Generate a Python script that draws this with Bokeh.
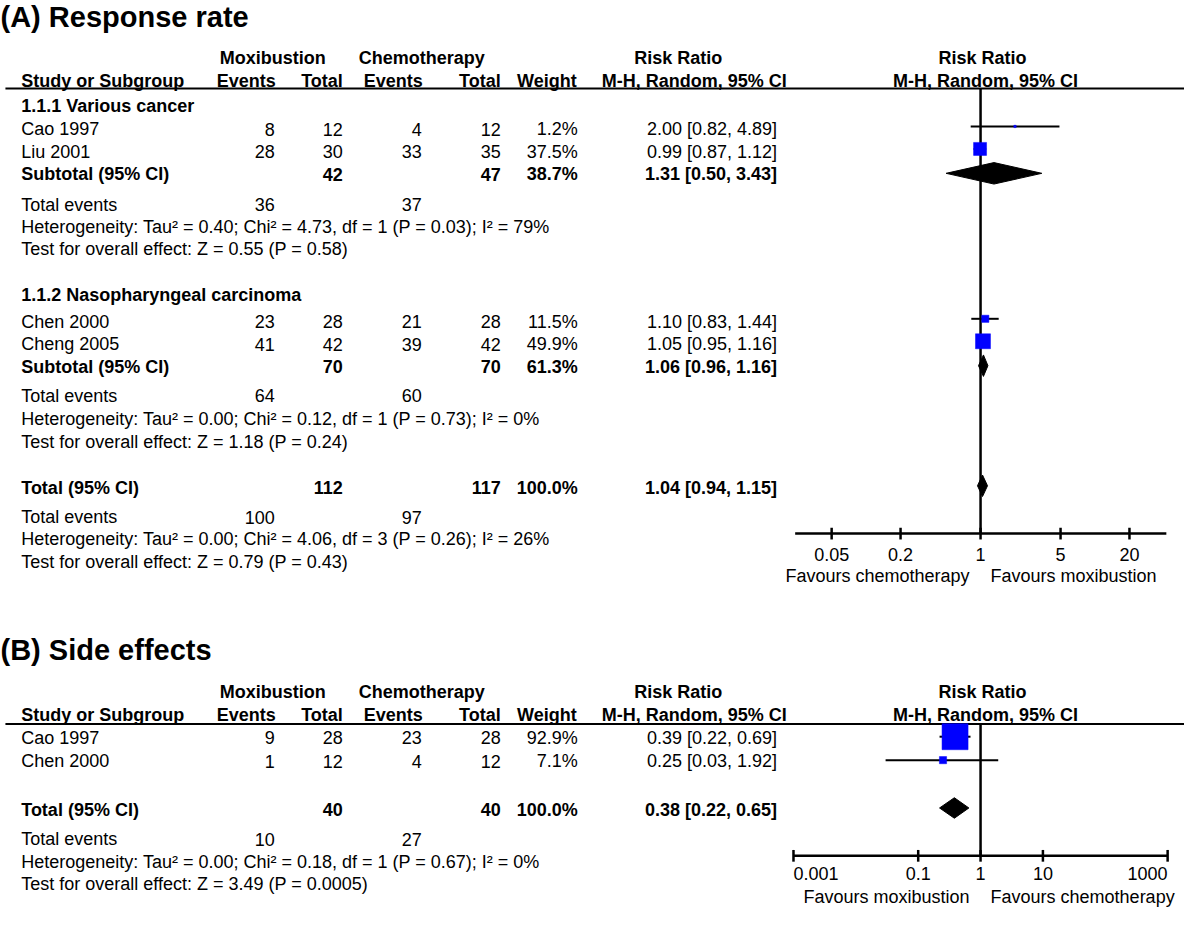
import math
from bokeh.plotting import figure
from bokeh.models import Range1d, LogScale, ColumnDataSource
from bokeh.core.properties import value
from bokeh.embed import file_html
from bokeh.resources import INLINE

FONT = "Liberation Sans"

# ---------------- Panel A data: Response rate ----------------
a_title = "(A) Response rate"
a_groups = ["1.1.1 Various cancer", "1.1.2 Nasopharyngeal carcinoma"]
a_studies = ["Cao 1997", "Liu 2001", "Chen 2000", "Cheng 2005"]
a_study_group = [0, 0, 1, 1]
a_mox_events = [8, 28, 23, 41]
a_mox_total = [12, 30, 28, 42]
a_chemo_events = [4, 33, 21, 39]
a_chemo_total = [12, 35, 28, 42]
a_weight = [1.2, 37.5, 11.5, 49.9]
a_rr = [2.00, 0.99, 1.10, 1.05]
a_lo = [0.82, 0.87, 0.83, 0.95]
a_hi = [4.89, 1.12, 1.44, 1.16]

a_sub_mox_total = [42, 70]
a_sub_chemo_total = [47, 70]
a_sub_weight = [38.7, 61.3]
a_sub_rr = [1.31, 1.06]
a_sub_lo = [0.50, 0.96]
a_sub_hi = [3.43, 1.16]
a_sub_mox_events = [36, 64]
a_sub_chemo_events = [37, 60]
a_sub_het = ["Heterogeneity: Tau² = 0.40; Chi² = 4.73, df = 1 (P = 0.03); I² = 79%",
             "Heterogeneity: Tau² = 0.00; Chi² = 0.12, df = 1 (P = 0.73); I² = 0%"]
a_sub_test = ["Test for overall effect: Z = 0.55 (P = 0.58)",
              "Test for overall effect: Z = 1.18 (P = 0.24)"]

a_tot_mox_total = 112
a_tot_chemo_total = 117
a_tot_weight = 100.0
a_tot_rr = 1.04
a_tot_lo = 0.94
a_tot_hi = 1.15
a_tot_mox_events = 100
a_tot_chemo_events = 97
a_tot_het = "Heterogeneity: Tau² = 0.00; Chi² = 4.06, df = 3 (P = 0.26); I² = 26%"
a_tot_test = "Test for overall effect: Z = 0.79 (P = 0.43)"

a_ticks = [0.05, 0.2, 1, 5, 20]
a_tick_labels = ["0.05", "0.2", "1", "5", "20"]
a_axis_ends = [0.024, 42]
a_favours = ["Favours chemotherapy", "Favours moxibustion"]

# ---------------- Panel B data: Side effects ----------------
b_title = "(B) Side effects"
b_studies = ["Cao 1997", "Chen 2000"]
b_mox_events = [9, 1]
b_mox_total = [28, 12]
b_chemo_events = [23, 4]
b_chemo_total = [28, 12]
b_weight = [92.9, 7.1]
b_rr = [0.39, 0.25]
b_lo = [0.22, 0.03]
b_hi = [0.69, 1.92]

b_tot_mox_total = 40
b_tot_chemo_total = 40
b_tot_weight = 100.0
b_tot_rr = 0.38
b_tot_lo = 0.22
b_tot_hi = 0.65
b_tot_mox_events = 10
b_tot_chemo_events = 27
b_tot_het = "Heterogeneity: Tau² = 0.00; Chi² = 0.18, df = 1 (P = 0.67); I² = 0%"
b_tot_test = "Test for overall effect: Z = 3.49 (P = 0.0005)"

b_ticks = [0.001, 0.1, 1, 10, 1000]
b_tick_labels = ["0.001", "0.1", "1", "10", "1000"]
b_axis_ends = [0.001, 1000]
b_favours = ["Favours moxibustion", "Favours chemotherapy"]

# ---------------- layout constants (reference pixel space) ----------------
W_REF = 1200
Y_TOP, Y_BOT = -2, 930
X_LABEL, X_EV1, X_TOT1, X_EV2, X_TOT2, X_W, X_CI = 21, 278, 347, 427, 507, 585, 787
X_ONE = 993.3
PX_DEC_A, PX_DEC_B = 116.0, 63.2

p = figure(width=1184, height=910,
           x_range=Range1d(0, W_REF), y_range=Range1d(Y_BOT, Y_TOP),
           output_backend="svg", toolbar_location=None,
           x_axis_location=None, y_axis_location=None,
           min_border=0, outline_line_color=None,
           background_fill_color="white", border_fill_color="white")
p.grid.grid_line_color = None
p.extra_x_ranges = {
    "fa": Range1d(10 ** ((0 - X_ONE) / PX_DEC_A), 10 ** ((W_REF - X_ONE) / PX_DEC_A)),
    "fb": Range1d(10 ** ((0 - X_ONE) / PX_DEC_B), 10 ** ((W_REF - X_ONE) / PX_DEC_B)),
}
p.extra_x_scales = {"fa": LogScale(), "fb": LogScale()}

texts = {}


def put(x, y, s, align="left", bold=False, size="18px", rng="default", dx=0):
    key = (align, bold, size, rng, dx)
    d = texts.setdefault(key, {"x": [], "y": [], "text": []})
    d["x"].append(x)
    d["y"].append(y)
    d["text"].append(s)


def ci_text(r, lo, hi):
    return f"{r:.2f} [{lo:.2f}, {hi:.2f}]"


def headers(y1, y2, yline, rng):
    put(276, y1, "Moxibustion", "center", True)
    put(427, y1, "Chemotherapy", "center", True)
    put(687, y1, "Risk Ratio", "center", True)
    put(1, y1, "Risk Ratio", "center", True, rng=rng, dx=2)
    put(X_LABEL, y2, "Study or Subgroup", "left", True)
    put(279, y2, "Events", "right", True)
    put(X_TOT1, y2, "Total", "right", True)
    put(428, y2, "Events", "right", True)
    put(X_TOT2, y2, "Total", "right", True)
    put(X_W - 1, y2, "Weight", "right", True)
    put(797, y2, "M-H, Random, 95% CI", "right", True)
    put(1, y2, "M-H, Random, 95% CI", "center", True, rng=rng, dx=5)
    p.segment(x0=[5], x1=[W_REF], y0=[yline], y1=[yline], line_color="black", line_width=2)


def study_row(y, name, e1, t1, e2, t2, w, r, lo, hi):
    put(X_LABEL, y, name)
    put(X_EV1, y, str(e1), "right")
    put(X_TOT1, y, str(t1), "right")
    put(X_EV2, y, str(e2), "right")
    put(X_TOT2, y, str(t2), "right")
    put(X_W, y, f"{w:.1f}%", "right")
    put(X_CI, y, ci_text(r, lo, hi), "right")


def pooled_row(y, name, t1, t2, w, r, lo, hi):
    put(X_LABEL, y, name, bold=True)
    put(X_TOT1, y, str(t1), "right", True)
    put(X_TOT2, y, str(t2), "right", True)
    put(X_W, y, f"{w:.1f}%", "right", True)
    put(X_CI, y, ci_text(r, lo, hi), "right", True)


def events_row(y, e1, e2):
    put(X_LABEL, y, "Total events")
    put(X_EV1, y, str(e1), "right")
    put(X_EV2, y, str(e2), "right")


def forest_axis(rng, y_axis, y_lab, y_fav, ticks, labels, ends, favours, y_top):
    p.segment(x0=[1], x1=[1], y0=[y_top], y1=[y_axis], x_range_name=rng,
              line_color="black", line_width=2.5)
    p.segment(x0=[ends[0]], x1=[ends[1]], y0=[y_axis], y1=[y_axis], x_range_name=rng,
              line_color="black", line_width=2.5)
    p.segment(x0=ticks, x1=ticks, y0=[y_axis - 6] * len(ticks), y1=[y_axis + 6] * len(ticks),
              x_range_name=rng, line_color="black", line_width=2.5)
    for t, lab in zip(ticks, labels):
        if t == ends[0]:
            put(t, y_lab, lab, "left", rng=rng)
        elif t == ends[1]:
            put(t, y_lab, lab, "right", rng=rng)
        else:
            put(t, y_lab, lab, "center", rng=rng)
    put(1, y_fav, favours[0], "right", rng=rng, dx=-11)
    put(1, y_fav, favours[1], "left", rng=rng, dx=10)


def squares(rng, ys, rr, lo, hi, w, k):
    p.segment(x0=lo, x1=hi, y0=ys, y1=ys, x_range_name=rng, line_color="black", line_width=2)
    p.scatter(x=rr, y=ys, marker="square", size=[k * math.sqrt(v) for v in w],
              x_range_name=rng, fill_color="#0000FF", line_color="#0000FF", line_width=0.5)


def diamonds(rng, ys, rr, lo, hi, h):
    xs = [[l, r, u, r] for r, l, u in zip(rr, lo, hi)]
    yss = [[y, y - h, y, y + h] for y in ys]
    p.patches(xs=xs, ys=yss, x_range_name=rng, fill_color="black", line_color="black")


# ---------------- Panel A ----------------
put(0, 15, a_title, bold=True, size="29px")
headers(57, 80, 88, "fa")
ya_group = [106, 300]
ya_study = [130, 153, 327, 350]
ya_sub = [176, 373]
ya_subev = [207, 403]
ya_subhet = [230, 427]
ya_subtest = [253, 450]
ya_tot, ya_totev, ya_tothet, ya_tottest = 497, 527, 550, 573

for g in range(2):
    put(X_LABEL, ya_group[g], a_groups[g], bold=True)
    for i in range(len(a_studies)):
        if a_study_group[i] == g:
            study_row(ya_study[i], a_studies[i], a_mox_events[i], a_mox_total[i],
                      a_chemo_events[i], a_chemo_total[i], a_weight[i], a_rr[i], a_lo[i], a_hi[i])
    pooled_row(ya_sub[g], "Subtotal (95% CI)", a_sub_mox_total[g], a_sub_chemo_total[g],
               a_sub_weight[g], a_sub_rr[g], a_sub_lo[g], a_sub_hi[g])
    events_row(ya_subev[g], a_sub_mox_events[g], a_sub_chemo_events[g])
    put(X_LABEL, ya_subhet[g], a_sub_het[g])
    put(X_LABEL, ya_subtest[g], a_sub_test[g])

pooled_row(ya_tot, "Total (95% CI)", a_tot_mox_total, a_tot_chemo_total, a_tot_weight,
           a_tot_rr, a_tot_lo, a_tot_hi)
events_row(ya_totev, a_tot_mox_events, a_tot_chemo_events)
put(X_LABEL, ya_tothet, a_tot_het)
put(X_LABEL, ya_tottest, a_tot_test)

forest_axis("fa", 544, 565, 587, a_ticks, a_tick_labels, a_axis_ends, a_favours, 88)
squares("fa", [y - 3 for y in ya_study], a_rr, a_lo, a_hi, a_weight, 2.12)
diamonds("fa", [y - 1 for y in ya_sub] + [ya_tot - 2],
         a_sub_rr + [a_tot_rr], a_sub_lo + [a_tot_lo], a_sub_hi + [a_tot_hi], 11)

# ---------------- Panel B ----------------
put(0, 663, b_title, bold=True, size="29px")
headers(706, 730, 739, "fb")
yb_study = [753, 777]
yb_tot, yb_totev, yb_tothet, yb_tottest = 827, 857, 880, 903
for i in range(len(b_studies)):
    study_row(yb_study[i], b_studies[i], b_mox_events[i], b_mox_total[i],
              b_chemo_events[i], b_chemo_total[i], b_weight[i], b_rr[i], b_lo[i], b_hi[i])
pooled_row(yb_tot, "Total (95% CI)", b_tot_mox_total, b_tot_chemo_total, b_tot_weight,
           b_tot_rr, b_tot_lo, b_tot_hi)
events_row(yb_totev, b_tot_mox_events, b_tot_chemo_events)
put(X_LABEL, yb_tothet, b_tot_het)
put(X_LABEL, yb_tottest, b_tot_test)

forest_axis("fb", 874, 892, 916, b_ticks, b_tick_labels, b_axis_ends, b_favours, 739)
squares("fb", [y - 1 for y in yb_study], b_rr, b_lo, b_hi, b_weight, 2.7)
diamonds("fb", [yb_tot - 2], [b_tot_rr], [b_tot_lo], [b_tot_hi], 10.5)

# ---------------- all texts ----------------
for (align, bold, size, rng, dx), d in texts.items():
    kw = {} if rng == "default" else {"x_range_name": rng}
    p.text(x="x", y="y", text="text", source=ColumnDataSource(d),
           text_align=align, text_baseline="middle", text_font=value(FONT),
           text_font_size=size, text_font_style="bold" if bold else "normal",
           text_color="black", x_offset=dx, **kw)

open("out.html", "w").write(file_html(p, INLINE))
